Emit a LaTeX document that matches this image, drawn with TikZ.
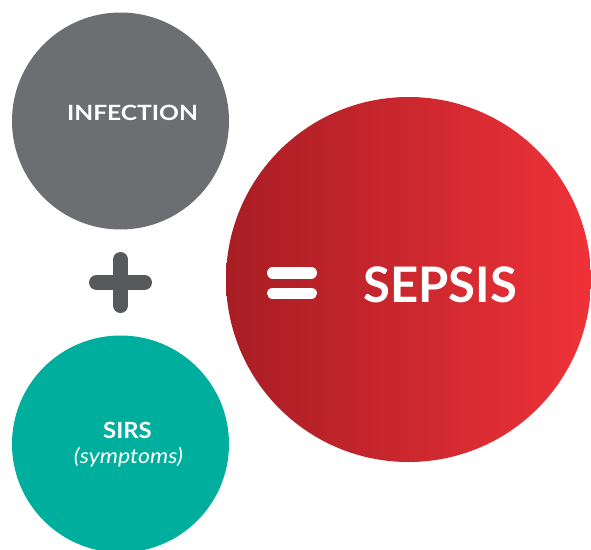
\documentclass[tikz,border=0pt]{standalone}
\usepackage{fontspec}
\setmainfont{Lato}
\usepackage{graphicx}
\definecolor{infgray}{HTML}{6D6E71}
\definecolor{opgray}{HTML}{58595B}
\definecolor{sirsteal}{HTML}{00AE9E}
\definecolor{sepdark}{HTML}{A81D24}
\definecolor{seplight}{HTML}{EF3238}
\begin{document}
\begin{tikzpicture}[x=1pt,y=-1pt,
  blob/.style={circle,inner sep=0pt,draw=none},
  bigword/.style={anchor=base,text=white,font=\bfseries,inner sep=0pt},
  opbar/.style={line cap=round}]
\useasboundingbox (0,0) rectangle (591,549);
% the three circles
\node[blob,fill=infgray,minimum size=217pt] (infection) at (120.5,121) {};
\node[blob,fill=sirsteal,minimum size=217pt] (sirs) at (120.5,444) {};
\shade[left color=sepdark,right color=seplight] (408.5,279.5) circle (182.5);
\node[blob,minimum size=365pt] (sepsis) at (408.5,279.5) {};
% labels
\node[bigword,font=\bfseries\fontsize{21}{21}\selectfont] (inftext) at (132.5,120.5) {\scalebox{1.17}[1]{INFECTION}};
\node[bigword,font=\bfseries\fontsize{22.3}{22}\selectfont] (sirstext) at (127.5,438) {\scalebox{1.07}[1]{SIRS}};
\node[bigword,font=\itshape\fontsize{21}{21}\selectfont] (symtext) at (128.5,463.5) {\scalebox{1.1}[1]{(symptoms)}};
\node[bigword,font=\bfseries\fontsize{49}{49}\selectfont] (septext) at (440,302) {SEPSIS};
% plus sign
\coordinate (plusc) at (120.5,282.5);
\draw[opbar,opgray,line width=15pt] ([xshift=-24pt]plusc) -- ([xshift=24pt]plusc);
\draw[opbar,opgray,line width=15pt] ([yshift=-23pt]plusc) -- ([yshift=23pt]plusc);
% equals sign
\coordinate (eqc) at (292,283);
\draw[opbar,white,line width=11.5pt] ([xshift=-19.25pt,yshift=-10.25pt]eqc) -- ([xshift=19.25pt,yshift=-10.25pt]eqc);
\draw[opbar,white,line width=11.5pt] ([xshift=-19.25pt,yshift=10.25pt]eqc) -- ([xshift=19.25pt,yshift=10.25pt]eqc);
\end{tikzpicture}
\end{document}
